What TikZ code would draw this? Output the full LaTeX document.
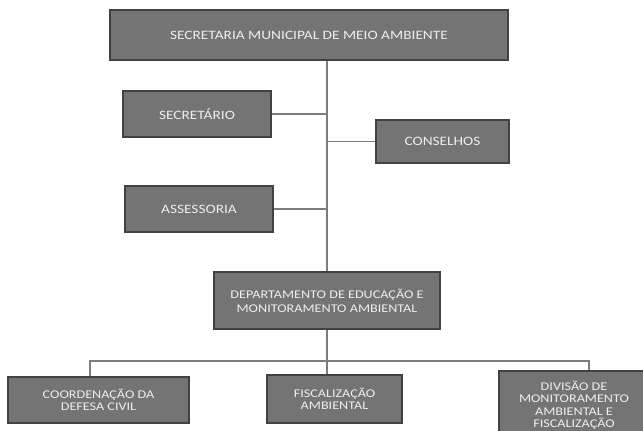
\documentclass[tikz,border=0pt]{standalone}
\usepackage{fontspec}
\setmainfont{Carlito}[FakeStretch=1.2]
\usepackage{xcolor}
\usepackage{tikz}
\definecolor{boxgray}{RGB}{116,116,116}
\definecolor{edgegray}{RGB}{66,66,66}
\definecolor{linegray}{RGB}{125,125,125}
\definecolor{textgray}{RGB}{238,238,238}

\begin{document}
\begin{tikzpicture}[x=1pt, y=-1pt,
    orgbox/.style={draw=edgegray, line width=1.5pt, fill=boxgray, text=textgray,
        align=center, inner sep=0pt, font=\fontsize{12.8}{14}\selectfont},
    lowbox/.style={orgbox, font=\fontsize{11.8}{12.5}\selectfont},
    link/.style={draw=linegray, line width=1.3pt}]
    \useasboundingbox (0,0) rectangle (643,431);

    % Upper level
    \node[orgbox, minimum width=398, minimum height=50] (sema) at (309,35) {SECRETARIA MUNICIPAL DE MEIO AMBIENTE};
    \node[orgbox, minimum width=148, minimum height=46] (secretario) at (197,114) {SECRET\'ARIO};
    \node[orgbox, minimum width=133, minimum height=43] (conselhos) at (442.5,141.5) {CONSELHOS};
    \node[orgbox, minimum width=148, minimum height=46] (assessoria) at (199,209) {ASSESSORIA};

    % Department and its units
    \node[lowbox, font=\fontsize{11.8}{14}\selectfont, minimum width=226, minimum height=57] (depto) at (327,300.5) {DEPARTAMENTO DE EDUCA\c{C}\~AO E\\MONITORAMENTO AMBIENTAL};
    \node[lowbox, minimum width=181, minimum height=46] (defesa) at (98.5,400) {COORDENA\c{C}\~AO DA\\DEFESA CIVIL};
    \node[lowbox, minimum width=135, minimum height=48] (fiscal) at (334.5,399) {FISCALIZA\c{C}\~AO\\AMBIENTAL};
    \node[lowbox, minimum width=150, minimum height=69] (divisao) at (574,405.5) {DIVIS\~AO DE\\MONITORAMENTO\\AMBIENTAL E\\FISCALIZA\c{C}\~AO};

    % Connectors
    \draw[link] (sema.south -| depto.north) -- (depto.north);
    \draw[link] (secretario.east) -- (secretario.east -| depto.north);
    \draw[link] (conselhos.west) -- (conselhos.west -| depto.north);
    \draw[link] (assessoria.east) -- (assessoria.east -| depto.north);

    \coordinate (barleft) at (90,361);
    \coordinate (barright) at (589,361);
    \draw[link] (depto.south) -- (depto.south |- fiscal.north);
    \draw[link] (barleft |- defesa.north) -- (barleft) -- (barright) -- (barright |- divisao.north);
\end{tikzpicture}
\end{document}
